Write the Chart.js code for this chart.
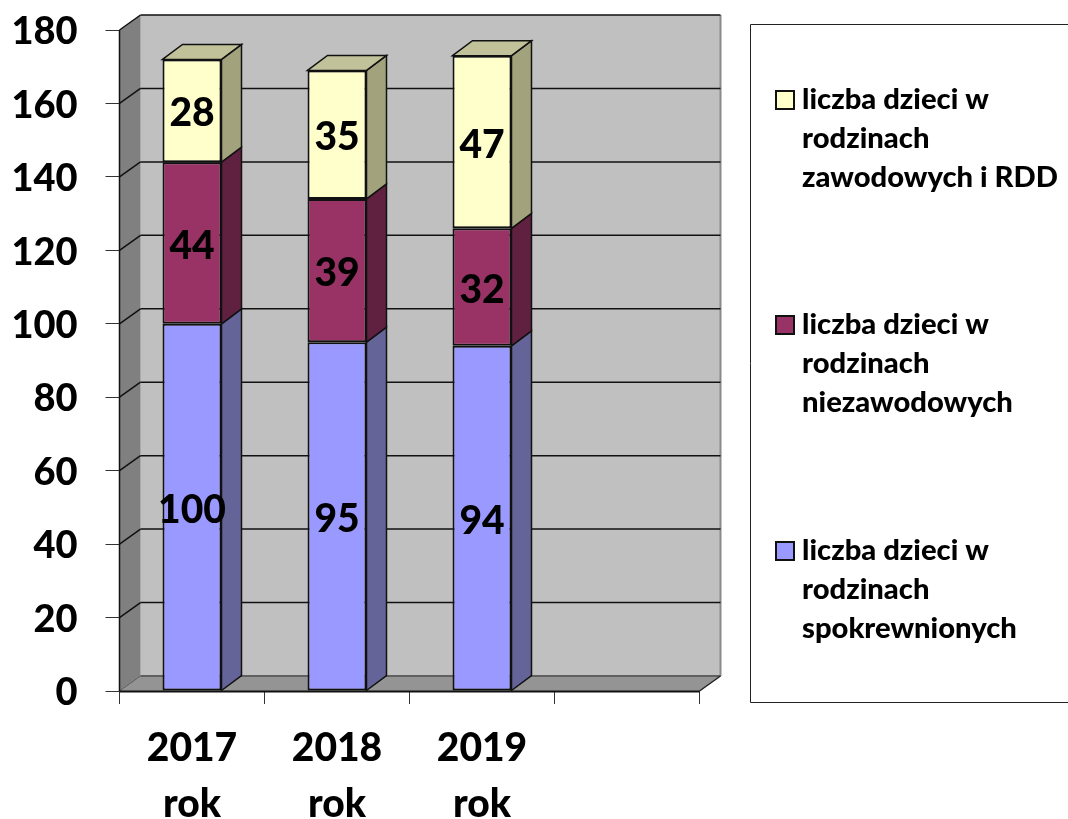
<!DOCTYPE html>
<html><head><meta charset="utf-8">
<script src="https://cdn.jsdelivr.net/npm/chart.js@4/dist/chart.umd.min.js"></script>
<style>html,body{margin:0;padding:0;background:#fff}#w{position:relative;width:1068px;height:819px}canvas{display:block}</style>
</head><body><div id="w"><canvas id="c" width="1068" height="819"></canvas></div>
<script>
const categories = [["2017","rok"],["2018","rok"],["2019","rok"],""];
const spokrewnione = [100,95,94,null];
const niezawodowe = [44,39,32,null];
const zawodowe = [28,35,47,null];
const labelSpokrewnione = ["liczba dzieci w","rodzinach","spokrewnionych"];
const labelNiezawodowe = ["liczba dzieci w","rodzinach","niezawodowych"];
const labelZawodowe = ["liczba dzieci w","rodzinach","zawodowych i RDD"];
const FONT = 'Lato, Carlito, "Open Sans", sans-serif';
const WALL = {dx:21,dy:15}, BAR = {dx:20,dy:15};

function poly(ctx,pts,fill,stroke,lw){
  ctx.beginPath();pts.forEach((p,i)=>i?ctx.lineTo(p[0],p[1]):ctx.moveTo(p[0],p[1]));ctx.closePath();
  if(fill){ctx.fillStyle=fill;ctx.fill();}
  if(stroke){ctx.strokeStyle=stroke;ctx.lineWidth=lw||1;ctx.stroke();}
}
function line(ctx,a,b,c,d,color,lw){ctx.beginPath();ctx.moveTo(a,b);ctx.lineTo(c,d);ctx.strokeStyle=color;ctx.lineWidth=lw;ctx.stroke();}

const walls = {id:'walls',
 afterLayout(ch){
  const y=ch.scales.y;
  if(y._shifted)return;
  y._shifted=true;
  const orig=y.drawLabels.bind(y);
  y.drawLabels=function(area){const c=this.ctx;c.save();c.translate(0,2);orig(area);c.restore();};
 },
 beforeDatasetsDraw(ch){
  const {ctx,chartArea:a,scales:{y}}=ch;
  const l=a.left,r=a.right,t=a.top,b=a.bottom;
  ctx.save();
  poly(ctx,[[l+WALL.dx,t-WALL.dy],[r+WALL.dx,t-WALL.dy],[r+WALL.dx,b-WALL.dy],[l+WALL.dx,b-WALL.dy]],'#c0c0c0');
  poly(ctx,[[l,t],[l+WALL.dx,t-WALL.dy],[l+WALL.dx,b-WALL.dy],[l,b]],'#808080');
  poly(ctx,[[l,b],[l+WALL.dx,b-WALL.dy],[r+WALL.dx,b-WALL.dy],[r,b]],'#949494');
  line(ctx,r+WALL.dx,t-WALL.dy,r+WALL.dx,b-WALL.dy,'#8a8a8a',2);
  line(ctx,l+WALL.dx,t-WALL.dy,l+WALL.dx,b-WALL.dy,'#a8a8a8',1);
  line(ctx,l+WALL.dx,b-WALL.dy,r+WALL.dx,b-WALL.dy,'#606060',2);
  line(ctx,l,b,l+WALL.dx,b-WALL.dy,'#5a5a5a',1);
  line(ctx,r,b,r+WALL.dx,b-WALL.dy,'#222',1.5);
  y.ticks.forEach(k=>{
    if(k.value===0)return;
    const p=y.getPixelForValue(k.value);
    line(ctx,l,p,l+WALL.dx,p-WALL.dy,'#111',1.5);
    line(ctx,l+WALL.dx,p-WALL.dy,r+WALL.dx,p-WALL.dy,'#111',1.5);
  });
  ctx.restore();
}};

const SIDE=['#646499','#602040','#a2a27c'], TOP='#c2c29a';
const sides = {id:'sides',afterDatasetsDraw(ch){
  const {ctx}=ch;
  ctx.save();ctx.lineJoin='miter';
  ch.data.datasets.forEach((ds,di)=>{
    ch.getDatasetMeta(di).data.forEach((el,i)=>{
      if(ds.data[i]==null)return;
      const hw=el.width/2,x0=el.x-hw,x1=el.x+hw,ty=el.y,by=el.base;
      poly(ctx,[[x1,by],[x1+BAR.dx,by-BAR.dy],[x1+BAR.dx,ty-BAR.dy],[x1,ty]],SIDE[di],'#111',1.5);
      if(di===ch.data.datasets.length-1)
        poly(ctx,[[x0,ty],[x0+BAR.dx,ty-BAR.dy],[x1+BAR.dx,ty-BAR.dy],[x1,ty]],TOP,'#111',1.5);
    });
  });
  line(ctx,ch.chartArea.left,ch.chartArea.top,ch.chartArea.left,ch.chartArea.bottom,'#111',1.5);
  line(ctx,ch.chartArea.left,ch.chartArea.bottom+.5,ch.chartArea.right,ch.chartArea.bottom+.5,'#111',2);
  ctx.fillStyle='#000';ctx.font='900 39px '+FONT;ctx.textAlign='center';ctx.textBaseline='middle';
  ch.data.datasets.forEach((ds,di)=>{
    ch.getDatasetMeta(di).data.forEach((el,i)=>{
      if(ds.data[i]==null)return;
      ctx.fillText(String(ds.data[i]),el.x,(el.y+el.base)/2+3);
    });
  });
  ctx.restore();
}};

const legendBox = {id:'legendBox',afterDraw(ch){
  const {ctx}=ch;
  ctx.save();
  ctx.strokeStyle='#222';ctx.lineWidth=1;
  ctx.beginPath();ctx.moveTo(1068,24.5);ctx.lineTo(750.5,24.5);ctx.lineTo(750.5,702.5);ctx.lineTo(1068,702.5);ctx.stroke();
  const rows=[...ch.data.datasets].reverse();
  const tops=[100,325,551];
  ctx.font='900 29.2px '+FONT;ctx.textBaseline='middle';ctx.textAlign='left';
  rows.forEach((ds,i)=>{
    ctx.fillStyle=ds.backgroundColor;ctx.strokeStyle='#111';ctx.lineWidth=2;
    ctx.fillRect(776,tops[i]-9,18,18);ctx.strokeRect(776,tops[i]-9,18,18);
    ctx.fillStyle='#000';
    ds.label.forEach((t,j)=>ctx.fillText(t,802,tops[i]+j*38.7));
  });
  ctx.restore();
}};

const stackBar={stack:'s',barPercentage:59/145,categoryPercentage:1,borderColor:'#111',borderWidth:2,borderSkipped:false};
new Chart(document.getElementById('c'),{
  type:'bar',
  data:{labels:categories,datasets:[
    {...stackBar,label:labelSpokrewnione,data:spokrewnione,backgroundColor:'#9999ff'},
    {...stackBar,label:labelNiezawodowe,data:niezawodowe,backgroundColor:'#993366'},
    {...stackBar,label:labelZawodowe,data:zawodowe,backgroundColor:'#ffffcc'}
  ]},
  options:{
    responsive:false,animation:false,
    layout:{padding:{top:30,right:368.5,left:0,bottom:0}},
    plugins:{legend:{display:false},tooltip:{enabled:false}},
    scales:{
      x:{stacked:true,
        afterFit(s){s.height=128;s.paddingLeft=0;s.paddingRight=0;},
        grid:{drawOnChartArea:false,drawTicks:true,tickLength:13,color:'#333',offset:true},
        border:{display:false},
        ticks:{color:'#000',font:{family:FONT,size:39,weight:'900',lineHeight:1.42},padding:17,maxRotation:0,autoSkip:false}},
      y:{stacked:true,min:0,max:180,
        afterFit(s){s.width=119.5;s.paddingTop=0;s.paddingBottom=0;},
        grid:{drawOnChartArea:false,drawTicks:true,tickLength:14,color:'#333'},
        border:{display:false},
        ticks:{stepSize:20,color:'#000',font:{family:FONT,size:38,weight:'900'},padding:28}}
    }
  },
  plugins:[walls,sides,legendBox]
});
</script></body></html>
